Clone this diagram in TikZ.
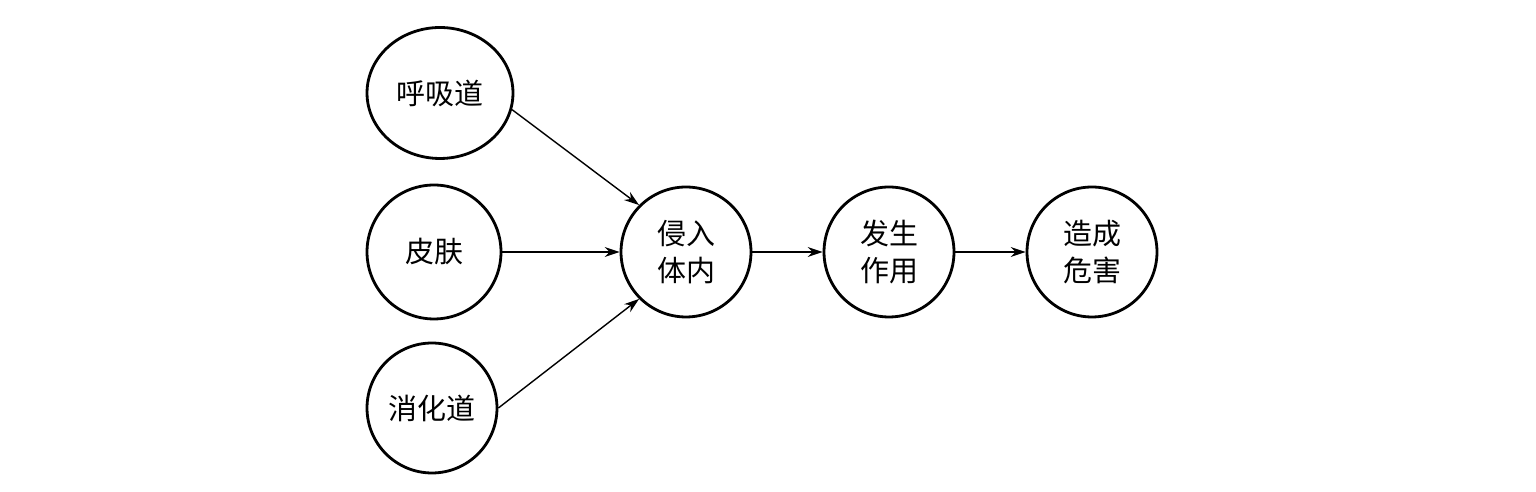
\documentclass[tikz,border=0pt]{standalone}
\usepackage{fontspec}
\setmainfont{Noto Sans CJK SC}
\usetikzlibrary{arrows.meta,shapes.geometric}
\begin{document}
\begin{tikzpicture}[x=0.02cm, y=-0.02cm, font=\fontsize{16.5}{21}\selectfont, line join=round, >={Stealth[length=0.3cm,width=0.2cm]},
	yuan/.style={draw, circle, line width=1.6pt, minimum size=2.6cm, inner sep=0pt, align=center},
	jian/.style={->, line width=0.8pt}]
	\useasboundingbox (0,0) rectangle (1536,492);
	\node[yuan, ellipse, minimum width=2.92cm, minimum height=2.62cm] (huxi) at (440,93) {呼吸道};
	\node[yuan, minimum size=2.68cm] (pifu) at (434,252) {皮肤};
	\node[yuan] (xiaohua) at (432,408) {消化道};
	\node[yuan] (qinru) at (686,252) {侵入\\体内};
	\node[yuan] (fasheng) at (889,252) {发生\\作用};
	\node[yuan] (zaocheng) at (1092,252) {造成\\危害};
	\draw[jian] (huxi.-13)--(qinru.north west);
	\draw[jian] (xiaohua.east)--(qinru.south west);
	\foreach \a/\b in {pifu/qinru,qinru/fasheng,fasheng/zaocheng}
	\draw[jian] (\a.east)--(\b.west);
\end{tikzpicture}
\end{document}
